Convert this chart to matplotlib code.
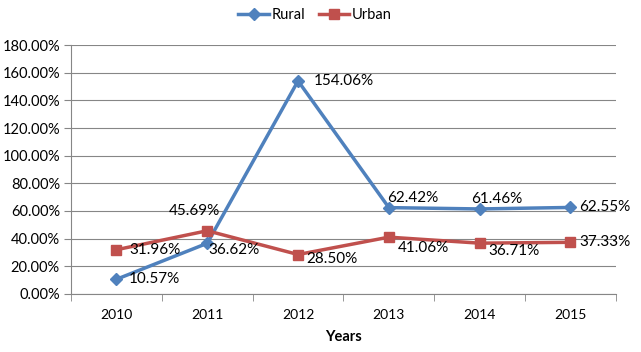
import matplotlib
matplotlib.use("Agg")
import matplotlib.pyplot as plt
from matplotlib.ticker import FuncFormatter, FixedLocator

years = ["2010", "2011", "2012", "2013", "2014", "2015"]
rural = [10.57, 36.62, 154.06, 62.42, 61.46, 62.55]
urban = [31.96, 45.69, 28.50, 41.06, 36.71, 37.33]

# label offsets (points) per point, Excel-like placement
rural_off = [(9, 0), (1, -5), (11, 0), (-1, 7), (-6.5, 7), (6.5, 0)]
urban_off = [(9, 0), (-28, 14), (6, -3), (6.5, -8), (6.5, -6), (6.5, 0)]

plt.rcParams["font.family"] = ["Lato", "DejaVu Sans"]

fig = plt.figure(figsize=(6.41, 3.52), dpi=100)
ax = fig.add_axes([0.1108, 0.165, 0.850, 0.707])

x = list(range(len(years)))
ax.plot(x, rural, color="#4F81BD", lw=2.5, marker="D", ms=6, label="Rural", zorder=3)
ax.plot(x, urban, color="#C0504D", lw=2.5, marker="s", ms=7, label="Urban", zorder=3)

for xi, v, off in zip(x, rural, rural_off):
    ax.annotate(f"{v:.2f}%", (xi, v), xytext=off, textcoords="offset points",
                fontsize=11, va="center", ha="left")
for xi, v, off in zip(x, urban, urban_off):
    ax.annotate(f"{v:.2f}%", (xi, v), xytext=off, textcoords="offset points",
                fontsize=11, va="center", ha="left")

ax.set_xlim(-0.5, len(years) - 0.5)
ax.set_ylim(0, 180)
ax.set_yticks(range(0, 181, 20))
ax.yaxis.set_major_formatter(FuncFormatter(lambda v, _: f"{v:.2f}%"))
ax.set_xticks(x)
ax.set_xticklabels(years)
ax.xaxis.set_minor_locator(FixedLocator([i - 0.5 for i in range(len(years) + 1)]))
ax.tick_params(axis="x", which="major", length=0, pad=11, labelsize=10)
ax.tick_params(axis="x", which="minor", length=5, color="#868686")
ax.tick_params(axis="y", length=5, color="#868686", labelsize=10.5, pad=3)

ax.grid(axis="y", color="#868686", lw=0.8)
ax.set_axisbelow(True)
for s in ["top", "right"]:
    ax.spines[s].set_visible(False)
for s in ["left", "bottom"]:
    ax.spines[s].set_color("#868686")

ax.set_xlabel("Years", fontweight="bold", fontsize=10.5)
ax.xaxis.set_label_coords(0.5, -0.145)

ax.legend(loc="upper center", bbox_to_anchor=(0.448, 1.2), ncol=2, frameon=False,
          fontsize=10.5, handlelength=2.1, columnspacing=0.9, handletextpad=0.2)

fig.savefig("out.png", dpi=100)
